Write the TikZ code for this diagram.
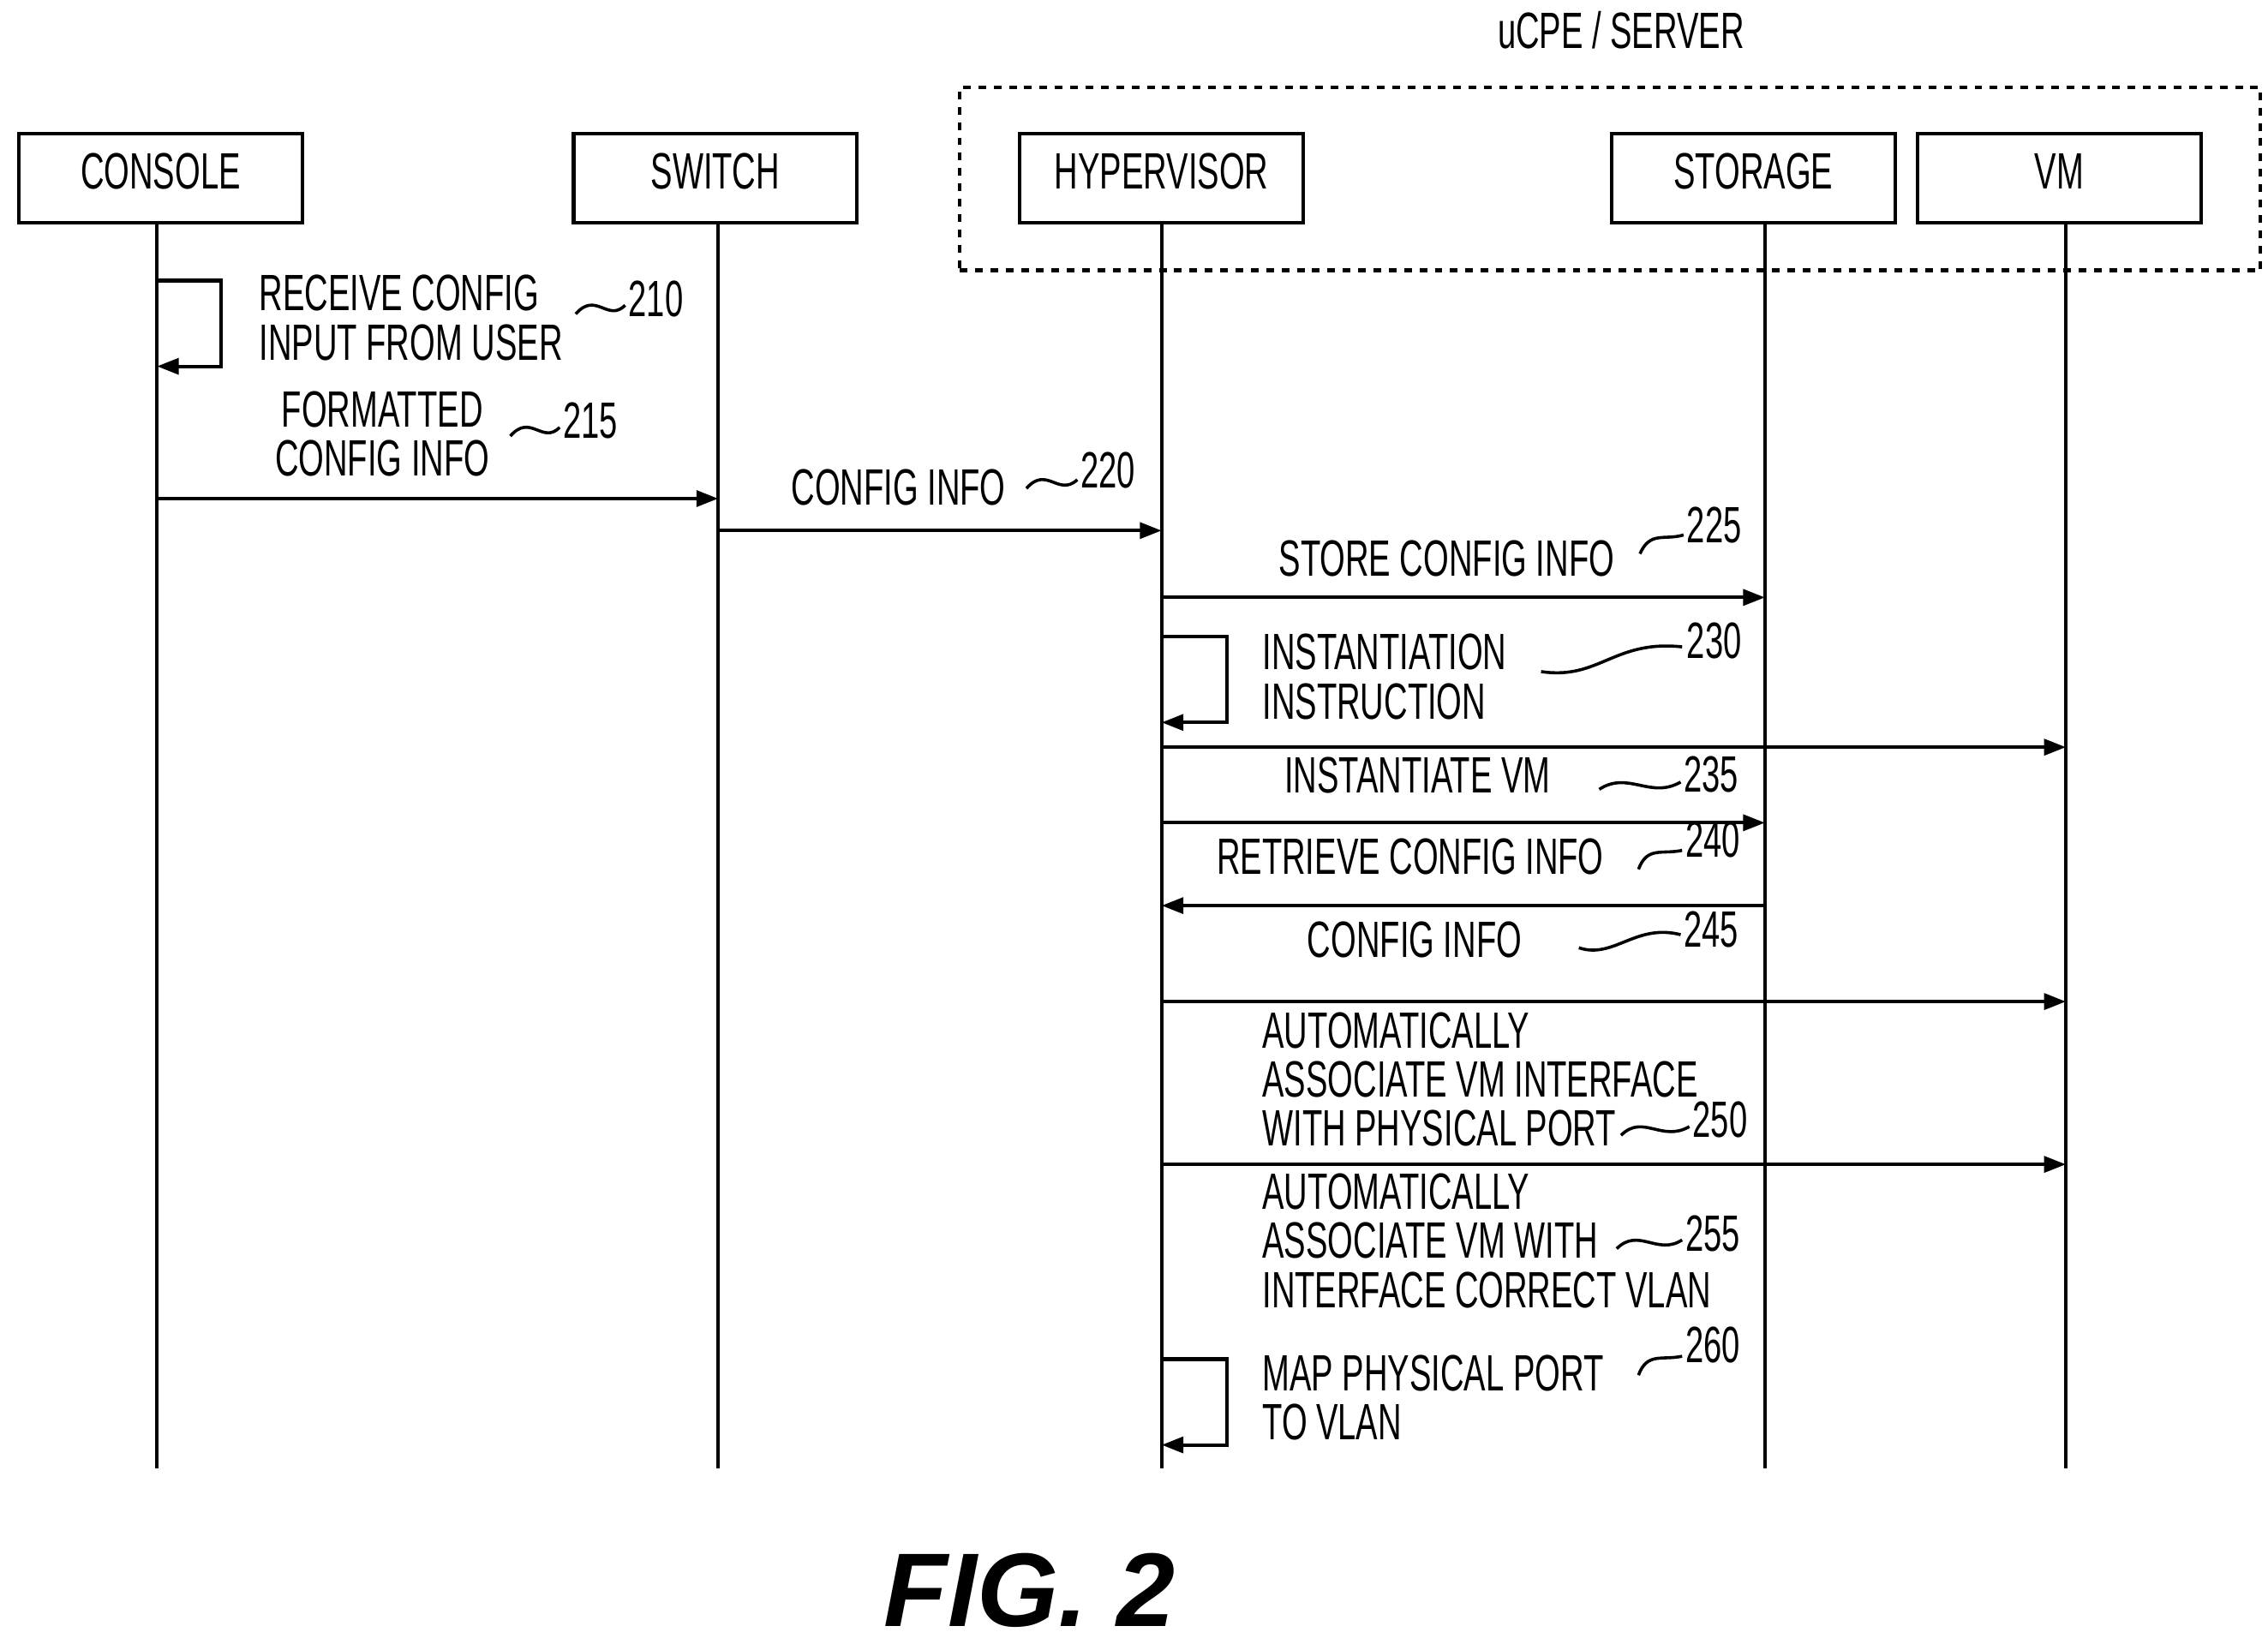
\documentclass[tikz,border=0pt]{standalone}
\usepackage{fontspec}
\setmainfont{Liberation Sans}
\usetikzlibrary{arrows.meta}
\newcommand\czl[1]{\scalebox{.64}[1]{\begin{tabular}{@{}l@{}}#1\end{tabular}}}
\newcommand\czc[1]{\scalebox{.64}[1]{\begin{tabular}{@{}c@{}}#1\end{tabular}}}
\begin{document}
\begin{tikzpicture}[x=0.02cm,y=-0.02cm,
  every node/.style={font=\fontsize{20}{17.6}\selectfont,inner sep=0pt},
  box/.style={draw,line width=1.4pt,minimum width=3.9cm,minimum height=1.22cm,inner sep=0pt},
  ln/.style={line width=1.4pt},
  msg/.style={line width=1.4pt,-{Triangle[length=0.3cm,width=0.22cm]}},
  sq/.style={line width=1.2pt}]
\useasboundingbox (0,0) rectangle (1560,1135);
\node (ucpe) at (1115,25) {\czc{uCPE / SERVER}};
\node[draw,dashed,line width=1.4pt,minimum width=17.9cm,minimum height=2.52cm] (srv) at (1107.5,123) {};
\node[box] (con) at (110.5,122.5) {\czc{CONSOLE}};
\node[box] (sw) at (492,122.5) {\czc{SWITCH}};
\node[box] (hv) at (799,122.5) {\czc{HYPERVISOR}};
\node[box] (st) at (1206,122.5) {\czc{STORAGE}};
\node[box] (vm) at (1416.5,122.5) {\czc{VM}};
\foreach \n/\x in {c/108,s/494,h/799,t/1214,v/1421}{
  \coordinate (\n0) at (\x,153);
  \coordinate (\n9) at (\x,1010);
  \draw[ln] (\n0) -- (\n9);}
% 210
\coordinate (a1) at (108,193); \coordinate (a2) at (108,252);
\draw[msg] (a1) -- (152,193) -- (152,252) -- (a2);
\node[anchor=west] (t210) at (178,223) {\czl{RECEIVE CONFIG\\INPUT FROM USER}};
\draw[sq] (396,216) .. controls (410,200) and (418,222) .. (430,210);
\node[anchor=west] (n210) at (432,210) {\czl{210}};
% 215
\coordinate (b1) at (108,343); \coordinate (b2) at (494,343);
\draw[msg] (b1) -- (b2);
\node (t215) at (263,303) {\czc{FORMATTED\\CONFIG INFO}};
\draw[sq] (351,300) .. controls (365,284) and (373,306) .. (385,294);
\node[anchor=west] (n215) at (387,294) {\czl{215}};
% 220
\coordinate (d1) at (494,365); \coordinate (d2) at (799,365);
\draw[msg] (d1) -- (d2);
\node (t220) at (618,340) {\czc{CONFIG INFO}};
\draw[sq] (706,336) .. controls (720,320) and (728,342) .. (741,330);
\node[anchor=west] (n220) at (743,328) {\czl{220}};
% 225
\coordinate (e1) at (799,411); \coordinate (e2) at (1214,411);
\draw[msg] (e1) -- (e2);
\node (t225) at (995,389) {\czc{STORE CONFIG INFO}};
\draw[sq] (1128,381) .. controls (1135,365) and (1145,372) .. (1158,368);
\node[anchor=west] (n225) at (1160,366) {\czl{225}};
% 230
\coordinate (f1) at (799,438); \coordinate (f2) at (799,497);
\draw[msg] (f1) -- (844,438) -- (844,497) -- (f2);
\node[anchor=west] (t230) at (868,470) {\czl{INSTANTIATION\\INSTRUCTION}};
\draw[sq] (1060,462) .. controls (1100,468) and (1110,440) .. (1157,445);
\node[anchor=west] (n230) at (1160,445) {\czl{230}};
% 235
\coordinate (g1) at (799,514); \coordinate (g2) at (1421,514);
\draw[msg] (g1) -- (g2);
\node (t235) at (975,538) {\czc{INSTANTIATE VM}};
\draw[sq] (1100,543) .. controls (1120,530) and (1135,550) .. (1156,538);
\node[anchor=west] (n235) at (1158,537) {\czl{235}};
% 240
\coordinate (h1) at (799,566); \coordinate (h2) at (1214,566);
\draw[msg] (h1) -- (h2);
\node (t240) at (970,594) {\czc{RETRIEVE CONFIG INFO}};
\draw[sq] (1127,598) .. controls (1133,582) and (1143,588) .. (1157,585);
\node[anchor=west] (n240) at (1159,582) {\czl{240}};
% 245
\coordinate (i1) at (1214,623); \coordinate (i2) at (799,623);
\draw[msg] (i1) -- (i2);
\node (t245) at (973,651) {\czc{CONFIG INFO}};
\draw[sq] (1086,652) .. controls (1110,660) and (1125,635) .. (1156,643);
\node[anchor=west] (n245) at (1158,644) {\czl{245}};
% 250
\coordinate (j1) at (799,689); \coordinate (j2) at (1421,689);
\draw[msg] (j1) -- (j2);
\node[anchor=west] (t250) at (868,747) {\czl{AUTOMATICALLY\\ASSOCIATE VM INTERFACE\\WITH PHYSICAL PORT}};
\draw[sq] (1115,781) .. controls (1130,766) and (1143,786) .. (1162,775);
\node[anchor=west] (n250) at (1164,775) {\czl{250}};
% 255
\coordinate (k1) at (799,801); \coordinate (k2) at (1421,801);
\draw[msg] (k1) -- (k2);
\node[anchor=west] (t255) at (868,858) {\czl{AUTOMATICALLY\\ASSOCIATE VM WITH\\INTERFACE CORRECT VLAN}};
\draw[sq] (1112,859) .. controls (1127,844) and (1140,864) .. (1157,853);
\node[anchor=west] (n255) at (1159,853) {\czl{255}};
% 260
\coordinate (l1) at (799,935); \coordinate (l2) at (799,994);
\draw[msg] (l1) -- (844,935) -- (844,994) -- (l2);
\node[anchor=west] (t260) at (868,966) {\czl{MAP PHYSICAL PORT\\TO VLAN}};
\draw[sq] (1127,946) .. controls (1133,930) and (1143,936) .. (1157,933);
\node[anchor=west] (n260) at (1159,930) {\czl{260}};
\node (fig) at (708,1094) {\fontsize{41}{46}\selectfont\bfseries\itshape FIG. 2};
\end{tikzpicture}
\end{document}
